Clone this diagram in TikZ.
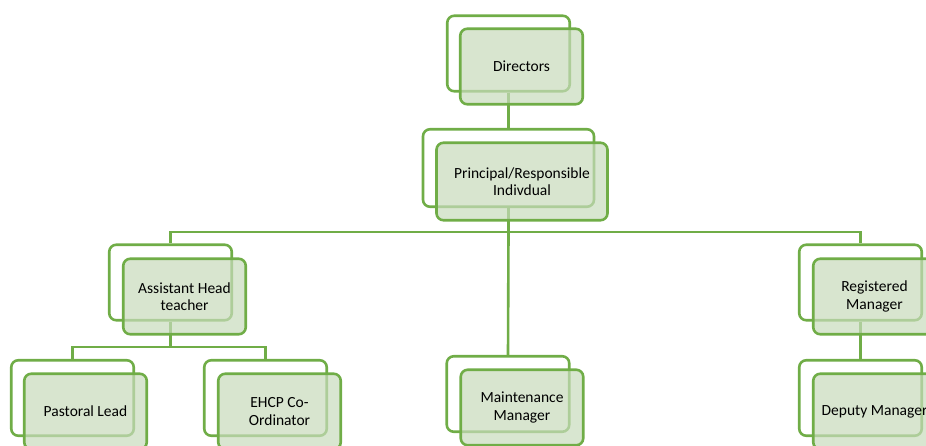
\documentclass[tikz,border=0pt]{standalone}
\usepackage{fontspec}
\setmainfont{Carlito}
\definecolor{lgreen}{RGB}{112,173,71}
\definecolor{fgreen}{RGB}{200,219,188}
\tikzset{
  boxbase/.style={draw=lgreen, line width=2.6pt, rounded corners=7pt, minimum width=122.5pt, minimum height=75.5pt, inner sep=2pt},
  backbox/.style={boxbase, fill=white},
  frontbox/.style={boxbase, fill=fgreen, fill opacity=0.7, text opacity=1, align=center, font=\fontsize{15.5}{17.5}\selectfont},
  conn/.style={draw=lgreen, line width=2.6pt}
}
\begin{document}
\begin{tikzpicture}[x=1pt,y=-1pt]
\useasboundingbox (0,0) rectangle (926,446);
% back boxes
\node[backbox] (dirB) at (508.5,53.5) {};
\node[backbox, minimum width=171pt, minimum height=77.5pt] (prinB) at (508.5,168) {};
\node[backbox] (asstB) at (170.5,282.5) {};
\node[backbox] (regB) at (860.5,282.5) {};
\node[backbox] (pastB) at (72.5,398) {};
\node[backbox] (ehcpB) at (265.5,398) {};
\node[backbox] (mainB) at (508,394) {};
\node[backbox] (depB) at (860.5,398) {};
% bus coordinates
\coordinate (busA) at (508.5,232);
\coordinate (busB) at (170.5,347);
% connectors
\draw[conn] (dirB.south) -- (prinB.north);
\draw[conn] (prinB.south) -- (busA);
\draw[conn] (busA) -| (asstB.north);
\draw[conn] (busA) -| (regB.north);
\draw[conn] (busA) -- (mainB.north);
\draw[conn] (asstB.south) -- (busB);
\draw[conn] (busB) -| (pastB.north);
\draw[conn] (busB) -| (ehcpB.north);
\draw[conn] (regB.south) -- (depB.north);
% front boxes
\node[frontbox] (dir) at (521.5,66.5) {Directors};
\node[frontbox, minimum width=171pt, minimum height=77.5pt] (prin) at (522,181.5) {Principal/Responsible\\Indivdual};
\node[frontbox] (asst) at (184.5,296.5) {Assistant Head\\teacher};
\node[frontbox] (reg) at (874.5,296.5) {Registered\\Manager};
\node[frontbox] (past) at (85.5,411.5) {Pastoral Lead};
\node[frontbox] (ehcp) at (279.5,411.5) {EHCP Co-\\Ordinator};
\node[frontbox] (main) at (522,407.5) {Maintenance\\Manager};
\node[frontbox] (dep) at (874.5,411.5) {Deputy Manager};
\end{tikzpicture}
\end{document}
